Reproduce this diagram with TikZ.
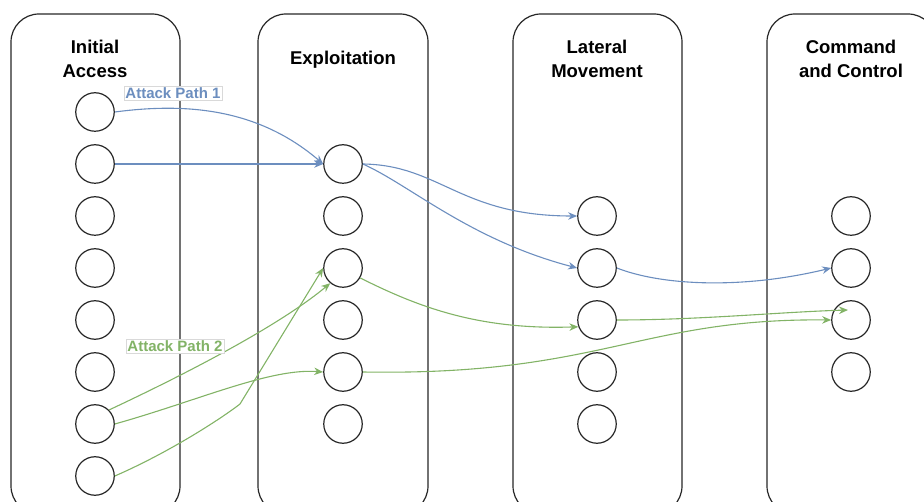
\documentclass[tikz,border=0pt]{standalone}
\usepackage{fontspec}
\setmainfont{Liberation Sans}
\usetikzlibrary{arrows.meta}
\tikzset{
  every node/.style={font=\bfseries\fontsize{18.5}{23.5}\selectfont},
  lane/.style={draw=black!85, line width=1.2pt, rounded corners=28pt},
  hop/.style={circle, draw=black!85, line width=1.2pt, fill=white,
    minimum size=38.5pt, inner sep=0pt},
  tag/.style={font=\bfseries\fontsize{15}{18}\selectfont, fill=white,
    draw=black!15, line width=0.6pt, inner sep=1.5pt},
}

\begin{document}
\begin{tikzpicture}[x=1pt, y=-1pt, >={Stealth[length=9pt, width=7.5pt]}, line width=1.1pt]
  % Fixed frame, lanes run off the bottom edge
  \path[use as bounding box] (0,0) rectangle (924,502);

  \definecolor{bluepath}{HTML}{6C8EBF}
  \definecolor{greenpath}{HTML}{82B366}

  % Kill chain lanes.
  \draw[lane] (11,14) rectangle (180,514);
  \draw[lane] (258,14) rectangle (428,514);
  \draw[lane] (513,14) rectangle (682,514);
  \draw[lane] (767,14) rectangle (936,514);

  % Lane titles.
  \node[align=center] (tInitial) at (95,59) {Initial\\Access};
  \node (tExploit) at (343,60) {Exploitation};
  \node[align=center] (tLateral) at (597,59) {Lateral\\Movement};
  \node[align=center] (tCommand) at (851,59) {Command\\and Control};

  % Hosts in each stage.
  \foreach \i in {1,...,8} \node[hop] (ia\i) at (95,60+52*\i) {};
  \foreach \i in {1,...,6} \node[hop] (ex\i) at (343,112+52*\i) {};
  \foreach \i in {1,...,5} \node[hop] (lm\i) at (597,164+52*\i) {};
  \foreach \i in {1,...,4} \node[hop] (cc\i) at (851,164+52*\i) {};

  % Attack path 1.
  \draw[->, bluepath] (ia1.east) .. controls (190,102) and (260,110) .. (ex1.west);
  \draw[->, bluepath] (ia2.east) -- (ex1.west);
  \draw[->, bluepath] (ex1.east) .. controls (440,165) and (460,216) .. (lm1.west);
  \draw[->, bluepath] (ex1.east) .. controls (410,185) and (470,240) .. (lm2.west);
  \draw[->, bluepath] (lm2.east) .. controls (660,285) and (740,290) .. (cc2.west);

  % Attack path 2.
  \coordinate (kink) at (240,404);
  \coordinate (c3tip) at (848,310);
  \draw[->, greenpath] (ia7.45) .. controls (190,372) and (280,325) .. (ex3.230);
  \draw[->, greenpath] (ia7.east) .. controls (200,400) and (270,368) .. (ex5.west);
  \draw[->, greenpath] (ia8.east) .. controls (170,452) and (222,418) .. (kink) -- (ex3.west);
  \draw[->, greenpath] (ex3.-30) .. controls (420,308) and (480,330) .. (lm3.200);
  \draw[->, greenpath] (ex5.east) .. controls (600,376) and (640,318) .. (cc3.west);
  \draw[->, greenpath] (lm3.east) .. controls (700,320) and (780,312) .. (c3tip);

  % Path labels.
  \node[tag, text=bluepath] (lblOne) at (173,93) {Attack Path 1};
  \node[tag, text=greenpath] (lblTwo) at (175,346) {Attack Path 2};
\end{tikzpicture}
\end{document}
